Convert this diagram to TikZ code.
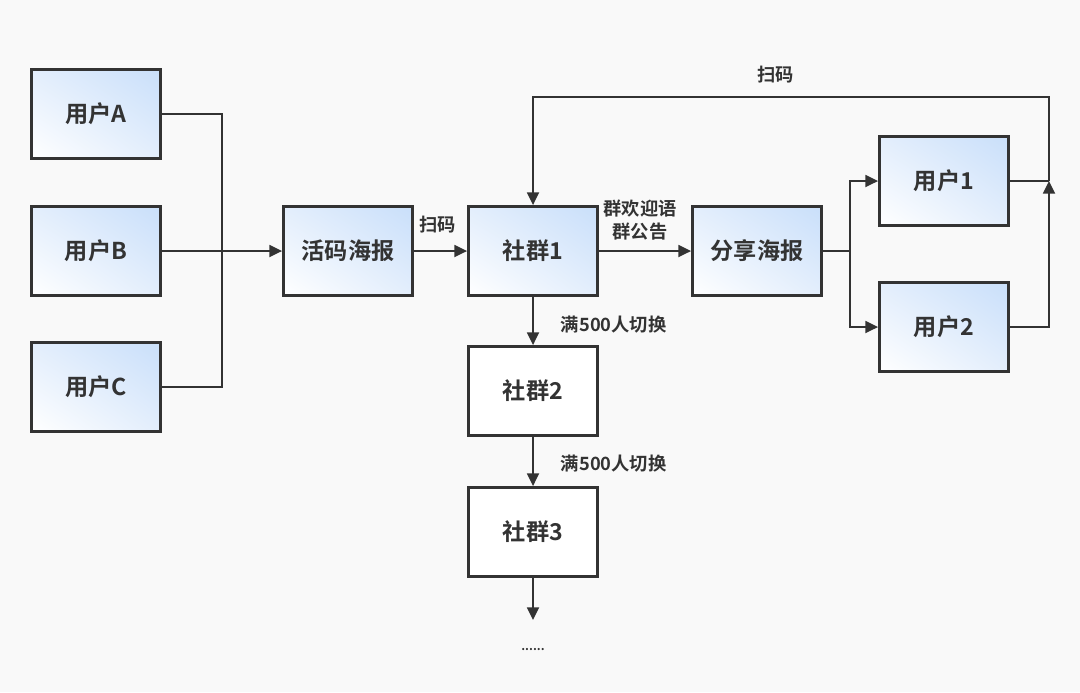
\documentclass[tikz,border=0pt]{standalone}
\usepackage{fontspec}
\setmainfont{Noto Sans CJK SC}[BoldFont={* Bold}]
\usetikzlibrary{arrows.meta,shadings}
\definecolor{lineC}{HTML}{333333}
\definecolor{bgC}{HTML}{F9F9F9}
\definecolor{blueHi}{HTML}{C9DFFA}
\definecolor{blueMid}{HTML}{E3EEFC}
\tikzset{
  box/.style={draw=lineC, line width=2pt, minimum width=129*0.025cm, minimum height=89*0.025cm,
    inner sep=0pt, font=\fontsize{16.5}{18}\selectfont\bfseries, text=lineC},
  bluebox/.style={box, lower left=white, upper right=blueHi, upper left=blueMid, lower right=blueMid},
  whitebox/.style={box, fill=white},
  conn/.style={draw=lineC, line width=1.4pt, -{Triangle[length=9pt,width=8.5pt]}},
  plain/.style={draw=lineC, line width=1.4pt},
  lbl/.style={font=\fontsize{13}{16}\selectfont\bfseries, text=lineC, inner sep=0pt, align=center}
}
\begin{document}
\begin{tikzpicture}[x=0.025cm,y=-0.025cm]
\fill[bgC] (0,0) rectangle (1080,692);
\useasboundingbox (0,0) rectangle (1080,692);
\node[bluebox] (uA) at (96,114) {用户A};
\node[bluebox] (uB) at (96,251) {用户B};
\node[bluebox] (uC) at (96,387) {用户C};
\node[bluebox] (poster) at (348,251) {活码海报};
\node[bluebox] (g1) at (533,251) {社群1};
\node[whitebox] (g2) at (533,391) {社群2};
\node[whitebox] (g3) at (533,532) {社群3};
\node[bluebox] (share) at (757,251) {分享海报};
\node[bluebox] (u1) at (944,181) {用户1};
\node[bluebox] (u2) at (944,327) {用户2};
\coordinate (mA) at (222,114);
\coordinate (mC) at (222,387);
\coordinate (split) at (850,251);
\coordinate (rj) at (1049,181);
\coordinate (rb) at (1049,327);
\coordinate (rt) at (1049,97);
\coordinate (lt) at (533,97);
\coordinate (endd) at (533,620);
\node[lbl] (dots) at (533,650) {\fontsize{8.5}{8.5}\selectfont ......};
% merge
\draw[plain] (uA.east) -- (mA) -- (mC) -- (uC.east);
\draw[conn] (uB.east) -- (poster.west);
\draw[conn] (poster.east) -- node[lbl, above=12pt, xshift=-3*0.025cm] (l1) {扫码} (g1.west);
\draw[conn] (g1.east) -- node[lbl, above=7pt, xshift=-5*0.025cm] (l2) {群欢迎语\\群公告} (share.west);
\draw[conn] (g1.south) -- node[lbl, anchor=west, xshift=27*0.025cm, pos=0.57] (l3) {满500人切换} (g2.north);
\draw[conn] (g2.south) -- node[lbl, anchor=west, xshift=27*0.025cm, pos=0.55] (l4) {满500人切换} (g3.north);
\draw[conn] (g3.south) -- (endd);
\draw[plain] (share.east) -- (split);
\draw[conn] (split) |- (u1.west);
\draw[conn] (split) |- (u2.west);
\draw[plain] (u1.east) -- (rj);
\draw[conn] (u2.east) -- (rb) -- (rj);
\draw[conn] (rj) -- (rt) -- node[lbl, above=9pt, pos=0.53] (l5) {扫码} (lt) -- (g1.north);
\end{tikzpicture}
\end{document}
